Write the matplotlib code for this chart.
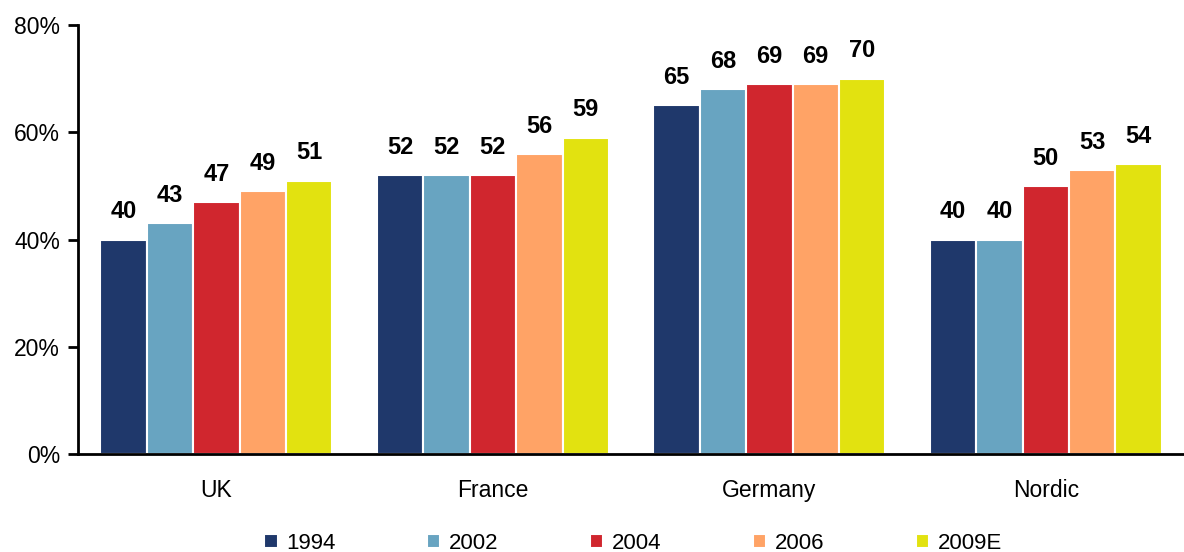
import numpy as np
from matplotlib import pyplot as plt

plt.rcParams['font.family'] = ['Liberation Sans', 'DejaVu Sans']

regions = ['UK', 'France', 'Germany', 'Nordic']
years = ['1994', '2002', '2004', '2006', '2009E']
values = {
    '1994': [40, 52, 65, 40],
    '2002': [43, 52, 68, 40],
    '2004': [47, 52, 69, 50],
    '2006': [49, 56, 69, 53],
    '2009E': [51, 59, 70, 54],
}
colors = ['#1F386B', '#68A4C1', '#D0262E', '#FFA366', '#E2E210']

fig = plt.figure(figsize=(11.84, 5.52), dpi=100)
ax = fig.add_axes([0.066, 0.177, 0.934, 0.778])

x = np.arange(len(regions))
width = 0.168
for i, (yr, c) in enumerate(zip(years, colors)):
    pos = x + (i - 2) * width
    vals = values[yr]
    ax.bar(pos, vals, width, color=c, edgecolor='white', linewidth=1.5, label=yr)
    for p, v in zip(pos, vals):
        ax.text(p, v + 3.0, str(v), ha='center', va='bottom',
                fontsize=17, fontweight='bold')

ax.set_xlim(-0.5, 3.5)
ax.set_ylim(0, 80)
ax.set_yticks([0, 20, 40, 60, 80])
ax.set_yticklabels(['0%', '20%', '40%', '60%', '80%'])
ax.set_xticks(x)
ax.set_xticklabels(regions)
ax.tick_params(axis='y', labelsize=16.5, length=7, width=2, pad=6)
ax.tick_params(axis='x', labelsize=16.5, length=0, pad=18)
ax.spines['top'].set_visible(False)
ax.spines['right'].set_visible(False)
ax.spines['left'].set_linewidth(2)
ax.spines['bottom'].set_linewidth(2)

ax.legend(loc='upper center', bbox_to_anchor=(0.502, -0.152), ncol=5,
          frameon=False, fontsize=16, handlelength=0.6, handleheight=0.6,
          handletextpad=0.4, columnspacing=4.1, borderaxespad=0.2)

plt.savefig('out.png', dpi=100)
